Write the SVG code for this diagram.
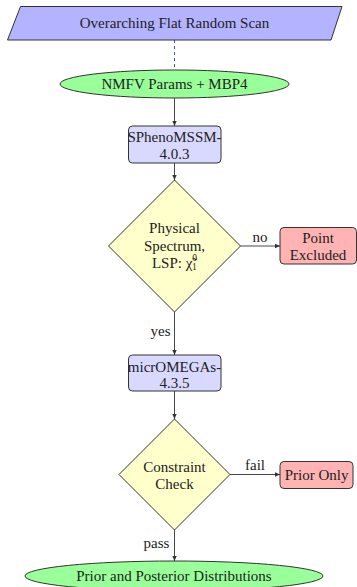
<svg xmlns="http://www.w3.org/2000/svg" width="357" height="587" viewBox="0 0 357 587">
<style>
text{font-size:15px;fill:#222;text-anchor:middle;dominant-baseline:central}
.sh{stroke:#333;stroke-width:1}
.ln{stroke:#333;stroke-width:0.9;fill:none}
</style>
<defs>
<marker id="ah" markerWidth="6" markerHeight="6" refX="5" refY="3" orient="auto" markerUnits="userSpaceOnUse">
<path d="M0,0.8 L5,3 L0,5.2 Z" fill="#333"/>
</marker>
</defs>
<rect width="357" height="587" fill="#fff"/>
<g font-family="'Liberation Serif', 'DejaVu Serif', serif">
<g id="connectors">
<line x1="174.5" y1="40" x2="174.5" y2="70" stroke="#3333ff" stroke-width="0.9" stroke-dasharray="3,3"/>
<line class="ln" x1="174.5" y1="98" x2="174.5" y2="126" marker-end="url(#ah)"/>
<line class="ln" x1="174.5" y1="163" x2="174.5" y2="180" marker-end="url(#ah)"/>
<line class="ln" x1="240.5" y1="246" x2="280" y2="246" marker-end="url(#ah)"/>
<text x="260" y="237">no</text>
<line class="ln" x1="174.5" y1="312" x2="174.5" y2="355" marker-end="url(#ah)"/>
<text x="160.5" y="331">yes</text>
<line class="ln" x1="174.5" y1="391" x2="174.5" y2="419" marker-end="url(#ah)"/>
<line class="ln" x1="230" y1="474.5" x2="280" y2="474.5" marker-end="url(#ah)"/>
<text x="255" y="465">fail</text>
<line class="ln" x1="174.5" y1="530" x2="174.5" y2="561" marker-end="url(#ah)"/>
<text x="156.5" y="543">pass</text>
</g>
<g id="scan">
<polygon class="sh" points="20.5,6.5 342,6.5 331,40 7.5,40" fill="#b3b3ff"/>
<text x="174.5" y="23">Overarching Flat Random Scan</text>
</g>
<g id="params">
<ellipse class="sh" cx="174.5" cy="84" rx="114.5" ry="14" fill="#99ff99"/>
<text x="174.5" y="84">NMFV Params + MBP4</text>
</g>
<g id="spheno">
<rect class="sh" x="128.5" y="126" width="92.5" height="37" rx="4" fill="#d9d9ff"/>
<text x="174.5" y="137">SPhenoMSSM-</text>
<text x="174.5" y="154">4.0.3</text>
</g>
<g id="physical">
<polygon class="sh" points="174.5,180 240.5,246 174.5,312 108.5,246" fill="#ffffcc"/>
<text x="174.5" y="228">Physical</text>
<text x="174.5" y="245.5">Spectrum,</text>
<text x="174.5" y="263">LSP: χ̃<tspan font-size="9.5" dy="-5">0</tspan><tspan font-size="9.5" dx="-5" dy="9">1</tspan></text>
</g>
<g id="excluded">
<rect class="sh" x="280" y="227.5" width="76.5" height="36.5" rx="4" fill="#ffb3b3"/>
<text x="318" y="238">Point</text>
<text x="318" y="255">Excluded</text>
</g>
<g id="micromegas">
<rect class="sh" x="128.5" y="355" width="92.5" height="36" rx="4" fill="#d9d9ff"/>
<text x="174.5" y="366.5">micrOMEGAs-</text>
<text x="174.5" y="383">4.3.5</text>
</g>
<g id="constraint">
<polygon class="sh" points="174.5,419 230,474.5 174.5,530 119,474.5" fill="#ffffcc"/>
<text x="174.5" y="467">Constraint</text>
<text x="174.5" y="484">Check</text>
</g>
<g id="prior">
<rect class="sh" x="280" y="461.5" width="73" height="27" rx="4" fill="#ffb3b3"/>
<text x="316.5" y="474.5">Prior Only</text>
</g>
<g id="distributions">
<ellipse class="sh" cx="174" cy="576" rx="149" ry="15" fill="#99ff99"/>
<text x="174" y="576">Prior and Posterior Distributions</text>
</g>
</g>
</svg>
